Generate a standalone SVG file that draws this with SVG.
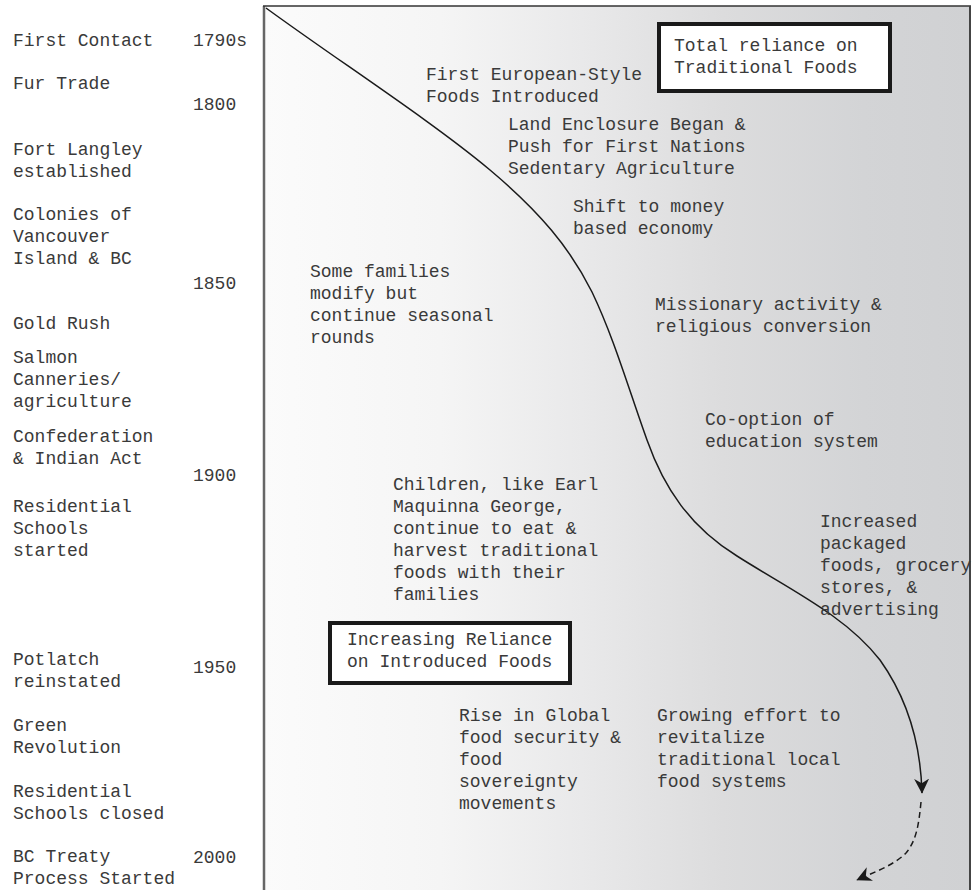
<svg xmlns="http://www.w3.org/2000/svg" width="972" height="890" viewBox="0 0 972 890">
<defs>
<linearGradient id="bg" x1="264" y1="0" x2="970" y2="0" gradientUnits="userSpaceOnUse">
<stop offset="0" stop-color="#fbfbfb"/>
<stop offset="0.25" stop-color="#f5f5f5"/>
<stop offset="0.45" stop-color="#e9e9ea"/>
<stop offset="0.65" stop-color="#dcdcdd"/>
<stop offset="0.85" stop-color="#d3d4d6"/>
<stop offset="1" stop-color="#d0d1d3"/>
</linearGradient>
<marker id="ah" viewBox="0 0 10 10" refX="9.5" refY="5" markerWidth="15" markerHeight="15" markerUnits="userSpaceOnUse" orient="auto">
<path d="M0,0 L10,5 L0,10 L3,5 z" fill="#1a1a1a"/>
</marker>
<style>
text{font-family:"Liberation Mono","Courier New",monospace;font-size:18px;fill:#3a3a3a}
.box{fill:#fff;stroke:#1a1a1a;stroke-width:4}
.conn{fill:none;stroke:#1a1a1a;stroke-width:1.5}
</style>
</defs>
<rect x="264" y="6" width="706" height="884" fill="url(#bg)"/>
<line x1="264" y1="6" x2="264" y2="890" stroke="#666" stroke-width="2.5"/>
<line x1="263" y1="6" x2="971" y2="6" stroke="#333" stroke-width="1.5"/>
<line x1="970" y1="6" x2="970" y2="890" stroke="#444" stroke-width="2"/>

<g id="timeline-left">
<text x="13" y="46">First Contact</text>
<text x="13" y="89">Fur Trade</text>
<text x="13" y="155">Fort Langley</text>
<text x="13" y="177">established</text>
<text x="13" y="220">Colonies of</text>
<text x="13" y="242">Vancouver</text>
<text x="13" y="264">Island &amp; BC</text>
<text x="13" y="329">Gold Rush</text>
<text x="13" y="363">Salmon</text>
<text x="13" y="385">Canneries/</text>
<text x="13" y="407">agriculture</text>
<text x="13" y="442">Confederation</text>
<text x="13" y="464">&amp; Indian Act</text>
<text x="13" y="512">Residential</text>
<text x="13" y="534">Schools</text>
<text x="13" y="556">started</text>
<text x="13" y="665">Potlatch</text>
<text x="13" y="687">reinstated</text>
<text x="13" y="731">Green</text>
<text x="13" y="753">Revolution</text>
<text x="13" y="797">Residential</text>
<text x="13" y="819">Schools closed</text>
<text x="13" y="862">BC Treaty</text>
<text x="13" y="884">Process Started</text>
</g>
<g id="years">
<text x="193" y="46">1790s</text>
<text x="193" y="110">1800</text>
<text x="193" y="289">1850</text>
<text x="193" y="481">1900</text>
<text x="193" y="673">1950</text>
<text x="193" y="863">2000</text>
</g>

<g id="connectors">
<path class="conn" d="M266,8 C340,62 430,120 490,170 C540,212 570,248 592,292 C614,338 629,390 647,440 C664,488 690,527 737,556 C787,588 845,615 880,660 C912,705 921,755 922,793" marker-end="url(#ah)"/>
<path class="conn" d="M921,802 C919,822 917,840 906,853 C893,866 872,873 857,880" stroke-dasharray="6,4" marker-end="url(#ah)"/>
</g>

<g id="box-traditional">
<rect class="box" x="659" y="24" width="231" height="67"/>
<text x="674" y="51">Total reliance on</text>
<text x="674" y="73">Traditional Foods</text>
</g>
<g id="box-introduced">
<rect class="box" x="330" y="623" width="240" height="60"/>
<text x="347" y="645">Increasing Reliance</text>
<text x="347" y="667">on Introduced Foods</text>
</g>

<g id="note-european">
<text x="426" y="80">First European-Style</text>
<text x="426" y="102">Foods Introduced</text>
</g>
<g id="note-land">
<text x="508" y="130">Land Enclosure Began &amp;</text>
<text x="508" y="152">Push for First Nations</text>
<text x="508" y="174">Sedentary Agriculture</text>
</g>
<g id="note-money">
<text x="573" y="212">Shift to money</text>
<text x="573" y="234">based economy</text>
</g>
<g id="note-families">
<text x="310" y="277">Some families</text>
<text x="310" y="299">modify but</text>
<text x="310" y="321">continue seasonal</text>
<text x="310" y="343">rounds</text>
</g>
<g id="note-missionary">
<text x="655" y="310">Missionary activity &amp;</text>
<text x="655" y="332">religious conversion</text>
</g>
<g id="note-education">
<text x="705" y="425">Co-option of</text>
<text x="705" y="447">education system</text>
</g>
<g id="note-children">
<text x="393" y="490">Children, like Earl</text>
<text x="393" y="512">Maquinna George,</text>
<text x="393" y="534">continue to eat &amp;</text>
<text x="393" y="556">harvest traditional</text>
<text x="393" y="578">foods with their</text>
<text x="393" y="600">families</text>
</g>
<g id="note-packaged">
<text x="820" y="527">Increased</text>
<text x="820" y="549">packaged</text>
<text x="820" y="571">foods, grocery</text>
<text x="820" y="593">stores, &amp;</text>
<text x="820" y="615">advertising</text>
</g>
<g id="note-global">
<text x="459" y="721">Rise in Global</text>
<text x="459" y="743">food security &amp;</text>
<text x="459" y="765">food</text>
<text x="459" y="787">sovereignty</text>
<text x="459" y="809">movements</text>
</g>
<g id="note-revitalize">
<text x="657" y="721">Growing effort to</text>
<text x="657" y="743">revitalize</text>
<text x="657" y="765">traditional local</text>
<text x="657" y="787">food systems</text>
</g>
</svg>
